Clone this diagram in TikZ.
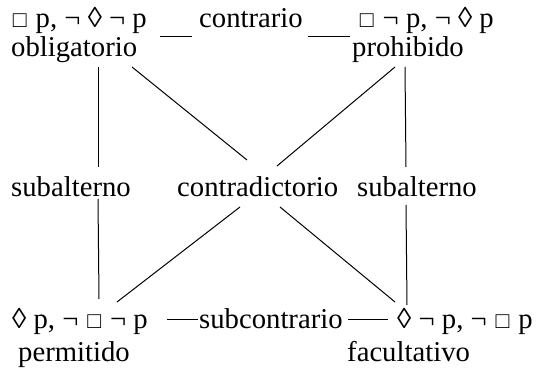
\documentclass[tikz,border=0pt]{standalone}
\usepackage{fontspec}
\usepackage{graphicx}
\setmainfont{Liberation Serif}
\newcommand\boxop{\hbox to 0.604em{\hss\scalebox{0.8}{□}\hss}}
\begin{document}
\begin{tikzpicture}[x=1pt,y=-1pt,
  txt/.style={inner sep=0pt, anchor=base west, font=\fontsize{28.7}{34}\selectfont},
  conn/.style={line width=1pt, black}]
\useasboundingbox (0,0) rectangle (539,374);
% texts
\node[txt] (obl) at (11,28) {\boxop{} p, ¬ ◊ ¬ p};
\node[txt] (contr) at (199,28) {contrario};
\node[txt] (pro) at (358,28) {\boxop{} ¬ p, ¬ ◊ p};
\node[txt] (oblname) at (11,57) {obligatorio};
\node[txt] (proname) at (352,57) {prohibido};
\node[txt] (subL) at (11,197) {subalterno};
\node[txt] (contrad) at (177,197) {contradictorio};
\node[txt] (subR) at (357,197) {subalterno};
\node[txt] (perm) at (12,329) {◊ p, ¬ \boxop{} ¬ p};
\node[txt] (subc) at (199,329) {subcontrario};
\node[txt] (fac) at (397,329) {◊ ¬ p, ¬ \boxop{} p};
\node[txt] (permname) at (18,362) {permitido};
\node[txt] (facname) at (347,362) {facultativo};
% connector end points
\coordinate (ctA) at (160,37); \coordinate (ctB) at (192,37);
\coordinate (ctC) at (308,37); \coordinate (ctD) at (350,37);
\coordinate (scA) at (167,320); \coordinate (scB) at (198,320);
\coordinate (scC) at (348,320); \coordinate (scD) at (388,320);
\coordinate (oV) at (98,67); \coordinate (sLt) at (98,167);
\coordinate (sLb) at (98,199); \coordinate (pV) at (99,299);
\coordinate (rV) at (405,67); \coordinate (sRt) at (406,167);
\coordinate (sRb) at (406,205); \coordinate (fV) at (407,305);
\coordinate (oD) at (132,67); \coordinate (cUL) at (247,160);
\coordinate (rD) at (395,67); \coordinate (cUR) at (277,166);
\coordinate (cLL) at (240,207); \coordinate (pD) at (117,302);
\coordinate (cLR) at (280,207); \coordinate (fD) at (395,302);
% connectors
\draw[conn] (ctA) -- (ctB);
\draw[conn] (ctC) -- (ctD);
\draw[conn] (scA) -- (scB);
\draw[conn] (scC) -- (scD);
\draw[conn] (oV) -- (sLt);
\draw[conn] (sLb) -- (pV);
\draw[conn] (rV) -- (sRt);
\draw[conn] (sRb) -- (fV);
\draw[conn] (oD) -- (cUL);
\draw[conn] (rD) -- (cUR);
\draw[conn] (cLL) -- (pD);
\draw[conn] (cLR) -- (fD);
\end{tikzpicture}
\end{document}
